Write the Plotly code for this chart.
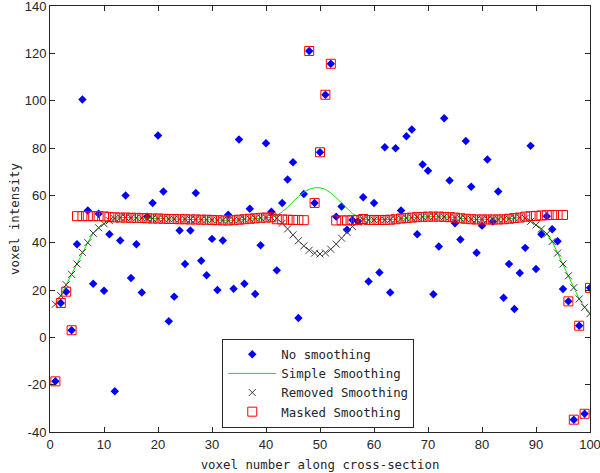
import plotly.graph_objects as go

voxel = list(range(1, 101))

no_smoothing = [
    -18.6, 14.5, 19.3, 3.0, 39.3, 100.5, 53.6, 22.6, 52.2, 19.7,
    43.6, -22.8, 40.9, 59.9, 25.1, 39.3, 18.9, 51.0, 56.8, 85.3,
    61.6, 6.8, 17.2, 45.1, 31.0, 45.1, 61.0, 32.4, 26.2, 41.6,
    20.0, 40.9, 51.8, 20.5, 83.6, 22.6, 54.3, 18.3, 38.9, 82.0,
    53.1, 28.3, 56.8, 66.7, 74.0, 8.2, 60.6, 121.0, 56.8, 78.2,
    102.5, 115.6, 51.0, 55.3, 45.5, 49.6, 49.0, 59.2, 23.6, 56.8,
    27.4, 80.3, 18.9, 79.9, 53.6, 85.0, 87.8, 43.6, 73.0, 70.4,
    18.2, 38.4, 92.6, 66.3, 48.2, 41.3, 83.0, 63.6, 35.7, 47.2,
    75.1, 48.9, 61.6, 16.7, 31.0, 12.0, 27.2, 37.8, 80.9, 28.9,
    43.6, 51.2, 45.7, 40.6, 20.4, 15.2, -34.8, 4.9, -32.3, 20.9,
]

simple_smoothing = [
    14.0, 17.6, 22.2, 26.6, 31.0, 35.9, 40.0, 44.0, 46.3, 48.0,
    49.3, 50.2, 50.6, 50.6, 50.5, 50.5, 50.4, 50.3, 50.2, 50.2,
    50.1, 50.0, 50.0, 49.9, 49.9, 49.8, 49.8, 49.7, 49.7, 49.6,
    49.5, 49.4, 49.4, 49.5, 49.7, 49.9, 50.1, 50.3, 50.5, 50.6,
    50.7, 51.5, 53.0, 55.0, 57.3, 59.5, 61.3, 62.6, 63.2, 63.2,
    62.5, 61.0, 59.0, 56.7, 54.3, 52.3, 51.0, 50.0, 49.6, 49.6,
    49.6, 49.6, 49.7, 49.9, 50.2, 50.4, 50.6, 50.8, 50.9, 51.0,
    51.0, 51.0, 50.9, 50.8, 50.6, 50.3, 50.1, 49.9, 49.8, 49.8,
    49.8, 49.8, 49.8, 49.9, 50.1, 50.4, 50.6, 50.3, 49.0, 47.5,
    45.8, 43.7, 40.5, 35.6, 31.0, 26.0, 21.0, 16.2, 12.7, 10.0,
]

removed_smoothing = [
    14.0, 17.6, 22.2, 26.6, 31.0, 35.9, 40.0, 44.0, 46.3, 48.0,
    49.3, 50.2, 50.6, 50.6, 50.5, 50.5, 50.4, 50.3, 50.2, 50.2,
    50.1, 50.0, 50.0, 49.9, 49.9, 49.8, 49.8, 49.7, 49.7, 49.6,
    49.5, 49.4, 49.4, 49.5, 49.7, 49.9, 50.1, 50.3, 50.5, 50.6,
    50.7, 50.3, 48.2, 45.8, 43.3, 40.8, 38.6, 36.8, 35.6, 35.2,
    35.7, 37.2, 39.4, 41.9, 44.4, 46.8, 48.7, 49.8, 49.6, 49.6,
    49.6, 49.6, 49.7, 49.9, 50.2, 50.4, 50.6, 50.8, 50.9, 51.0,
    51.0, 51.0, 50.9, 50.8, 50.6, 50.3, 50.1, 49.9, 49.8, 49.8,
    49.8, 49.8, 49.8, 49.9, 50.1, 50.4, 50.6, 50.3, 49.0, 47.5,
    45.8, 43.7, 40.5, 35.6, 31.0, 26.0, 21.0, 16.2, 12.7, 10.0,
]

masked_smoothing = [
    -18.6, 14.5, 19.3, 3.0, 51.2, 51.2, 51.2, 51.2, 51.2, 51.1,
    50.8, 50.7, 50.6, 50.6, 50.5, 50.5, 50.4, 50.3, 50.2, 50.2,
    50.1, 50.0, 50.0, 49.9, 49.9, 49.8, 49.8, 49.7, 49.7, 49.6,
    49.5, 49.4, 49.4, 49.5, 49.7, 49.9, 50.1, 50.3, 50.5, 50.6,
    50.7, 49.9, 49.8, 49.7, 49.6, 49.6, 49.5, 121.0, 56.8, 78.2,
    102.5, 115.6, 49.4, 49.4, 49.4, 49.5, 49.6, 50.0, 49.6, 49.6,
    49.6, 49.6, 49.7, 49.9, 50.2, 50.4, 50.6, 50.8, 50.9, 51.0,
    51.0, 51.0, 50.9, 50.8, 50.6, 50.3, 50.1, 49.9, 49.8, 49.8,
    49.8, 49.8, 49.8, 49.9, 50.1, 50.4, 50.6, 51.0, 51.2, 51.3,
    51.5, 51.6, 51.7, 51.7, 51.7, 15.2, -34.8, 4.9, -32.3, 20.9,
]

x_ticks = [0, 10, 20, 30, 40, 50, 60, 70, 80, 90, 100]
y_ticks = [-40, -20, 0, 20, 40, 60, 80, 100, 120, 140]

mono = "DejaVu Sans Mono"
ink = "#262626"

fig = go.Figure()
fig.add_trace(go.Scatter(
    x=voxel, y=no_smoothing, mode="markers", name="No smoothing",
    marker=dict(symbol="diamond", size=6.5, color="#0000ff", line=dict(width=0)),
))
fig.add_trace(go.Scatter(
    x=voxel, y=simple_smoothing, mode="lines", name="Simple Smoothing",
    line=dict(color="#00ee00", width=1),
))
fig.add_trace(go.Scatter(
    x=voxel, y=removed_smoothing, mode="markers", name="Removed Smoothing",
    marker=dict(symbol="x-thin-open", size=7, color="#3a3a3a",
                line=dict(width=1, color="#3a3a3a")),
))
fig.add_trace(go.Scatter(
    x=voxel, y=masked_smoothing, mode="markers", name="Masked Smoothing",
    marker=dict(symbol="square-open", size=9, color="#ff0000",
                line=dict(width=1, color="#ff0000")),
))

axis_common = dict(
    showgrid=False, zeroline=False, showline=True, linecolor=ink,
    linewidth=1, mirror="ticks", ticks="inside", ticklen=5,
    tickcolor=ink, ticklabeloverflow="allow",
    tickfont=dict(family="Liberation Sans", size=13, color=ink),
)

fig.update_xaxes(
    range=[0, 100], tickvals=x_ticks, ticktext=[str(v) for v in x_ticks],
    title=dict(text="voxel number along cross-section",
               font=dict(family=mono, size=12.4, color=ink), standoff=9),
    **axis_common,
)
fig.update_yaxes(
    range=[-40, 140], tickvals=y_ticks, ticktext=[str(v) for v in y_ticks],
    title=dict(text="voxel intensity",
               font=dict(family=mono, size=12.4, color=ink), standoff=2),
    **axis_common,
)

fig.update_layout(
    width=600, height=473,
    margin=dict(l=50, r=10, t=6, b=41, autoexpand=False),
    paper_bgcolor="white", plot_bgcolor="white",
    showlegend=True,
    legend=dict(
        x=0.319, y=0.01, xanchor="left", yanchor="bottom",
        bgcolor="white", bordercolor=ink, borderwidth=1,
        font=dict(family=mono, size=12.4, color=ink),
        itemwidth=48, tracegroupgap=0,
    ),
)

fig.write_html(
    "out.html",
    config={"displayModeBar": False},
    post_script="document.body.style.margin='0';document.body.style.padding='0';",
)
